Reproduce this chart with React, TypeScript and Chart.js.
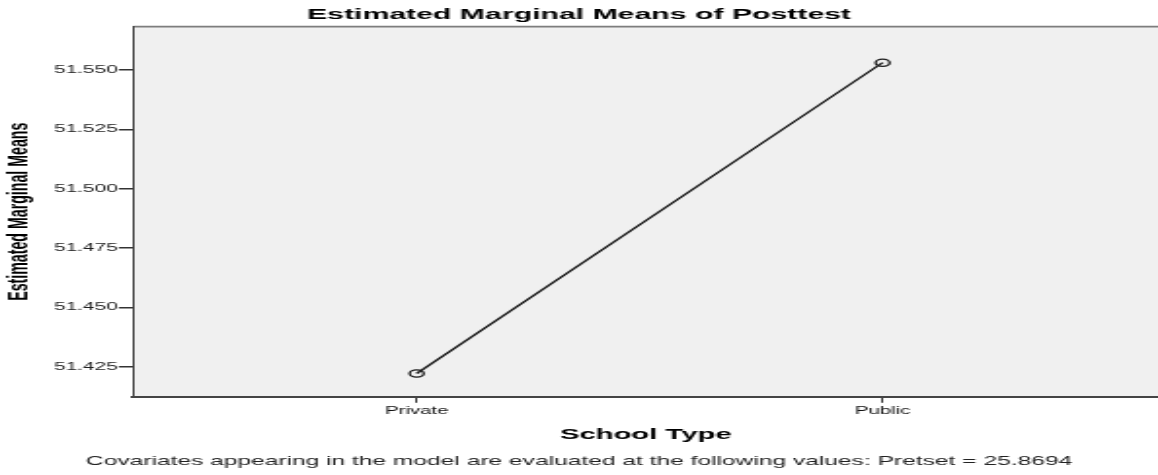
import { useEffect, useRef } from "react";
import { Chart, registerables } from "chart.js";

Chart.register(...registerables);

// ---- data ----
const categories = ["Private", "Public"];
const means = [51.4222, 51.5531];
const yTickValues = [51.425, 51.45, 51.475, 51.5, 51.525, 51.55];
const yTickLabels = ["51.425", "51.450", "51.475", "51.500", "51.525", "51.550"];
const chartTitle = "Estimated Marginal Means of Posttest";
const xAxisTitle = "School Type";
const yAxisTitle = "Estimated Marginal Means";
const footnote =
  "Covariates appearing in the model are evaluated at the following values: Pretset = 25.8694";

// ---- layout / style ----
const CANVAS_W = 594;
const CANVAS_H = 475;
const FONT = "'Liberation Sans', Arial, sans-serif";

const plotBackground = {
  id: "plotBackground",
  beforeDraw(chart: any) {
    const { ctx, chartArea } = chart;
    if (!chartArea) return;
    ctx.save();
    ctx.fillStyle = "#f0f0f0";
    ctx.fillRect(chartArea.left, chartArea.top, chartArea.right - chartArea.left, chartArea.bottom - chartArea.top);
    ctx.strokeStyle = "#7d7d7d";
    ctx.lineWidth = 1.6;
    ctx.beginPath();
    ctx.moveTo(chartArea.left, chartArea.top);
    ctx.lineTo(chartArea.right, chartArea.top);
    ctx.stroke();
    ctx.restore();
  },
};

export default function App() {
  const canvasRef = useRef<HTMLCanvasElement | null>(null);

  useEffect(() => {
    if (!canvasRef.current) return;
    const chart = new Chart(canvasRef.current, {
      type: "line",
      data: {
        datasets: [
          {
            data: means.map((y, i) => ({ x: i, y })),
            borderColor: "#1c1c1c",
            borderWidth: 1.4,
            pointRadius: 3.6,
            pointHoverRadius: 3.6,
            pointBorderWidth: 1.3,
            pointBackgroundColor: "rgba(0,0,0,0)",
            pointBorderColor: "#1c1c1c",
            tension: 0,
            fill: false,
          },
        ],
      },
      options: {
        responsive: false,
        animation: false,
        devicePixelRatio: 1,
        layout: { autoPadding: false, padding: { left: 0, right: 0, top: 0, bottom: 0 } },
        plugins: {
          legend: { display: false },
          tooltip: { enabled: false },
          title: {
            display: true,
            text: chartTitle,
            color: "#000",
            font: { family: FONT, size: 15.5, weight: "bold" },
            padding: { top: 5, bottom: 3 },
          },
          subtitle: {
            display: true,
            position: "bottom",
            text: footnote,
            color: "#222",
            font: { family: FONT, size: 12.6 },
            padding: { top: 2, bottom: 5.5 },
          },
        },
        scales: {
          x: {
            type: "linear",
            min: -0.608,
            max: 1.591,
            afterBuildTicks: (s: any) => {
              s.ticks = categories.map((_, i) => ({ value: i }));
            },
            afterFit: (s: any) => {
              s.paddingLeft = 0;
              s.paddingRight = 0;
            },
            ticks: {
              callback: (v: any) => categories[v as number] ?? "",
              color: "#111",
              font: { family: FONT, size: 10.5 },
              padding: 2,
              maxRotation: 0,
              autoSkip: false,
            },
            grid: { drawOnChartArea: false, drawTicks: true, tickLength: 6, color: "#333", lineWidth: 1 },
            border: { display: true, color: "#444", width: 2 },
            title: {
              display: true,
              text: xAxisTitle,
              color: "#000",
              font: { family: FONT, size: 15, weight: "bold" },
              padding: { top: 6, bottom: 9 },
            },
          },
          y: {
            type: "linear",
            min: 51.4124,
            max: 51.5683,
            afterBuildTicks: (s: any) => {
              s.ticks = yTickValues.map((v) => ({ value: v }));
            },
            afterFit: (s: any) => {
              s.width = 68.4;
              s.paddingTop = 0;
              s.paddingBottom = 0;
            },
            ticks: {
              callback: (_v: any, i: number) => yTickLabels[i],
              color: "#222",
              font: { family: FONT, size: 10.7 },
              padding: 0.5,
              autoSkip: false,
            },
            grid: { drawOnChartArea: false, drawTicks: true, tickLength: 7.5, color: "#333", lineWidth: 1.5 },
            border: { display: true, color: "#444", width: 1 },
            title: {
              display: true,
              text: yAxisTitle,
              color: "#000",
              font: { family: FONT, size: 14.2, weight: "bold" },
              padding: { top: 2, bottom: 0 },
            },
          },
        },
      },
      plugins: [plotBackground],
    } as any);
    return () => chart.destroy();
  }, []);

  return (
    <canvas
      ref={canvasRef}
      width={CANVAS_W}
      height={CANVAS_H}
      style={{ position: "fixed", left: 0, top: 0, width: "1158px", height: "475px" }}
    />
  );
}
